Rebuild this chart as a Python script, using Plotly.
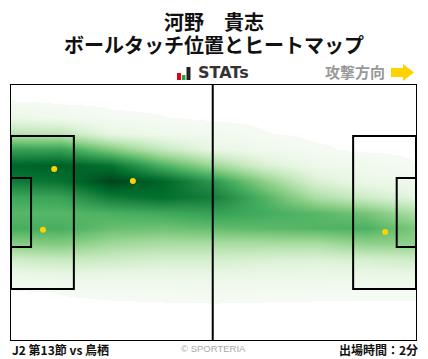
import plotly.graph_objects as go

W, H = 428, 359
L, T, R, B = 11, 85, 416, 340

# Heat grid, metres on a 105 x 68 pitch
grid_x = [0, 13, 26, 39, 52.5, 66, 79, 92, 105]
grid_y = [0, 4.25, 8.5, 12.75, 17, 21.25, 25.5, 29.75, 34, 38.25, 42.5, 46.75, 51, 55.25, 59.5, 63.75, 68]
density = [
    [0, 0, 0, 0, 0, 0, 0, 0, 0],
    [0.0092, 0, 0, 0, 0, 0, 0, 0, 0],
    [0.08, 0.045, 0.016, 0.0092, 0, 0, 0, 0, 0],
    [0.30, 0.27, 0.10, 0.05, 0.032, 0.0092, 0, 0, 0],
    [0.66, 0.66, 0.46, 0.26, 0.10, 0.04, 0.0142, 0, 0],
    [0.90, 0.92, 0.85, 0.60, 0.38, 0.17, 0.06, 0.043, 0.0092],
    [0.82, 0.85, 1.00, 0.90, 0.70, 0.42, 0.17, 0.08, 0.05],
    [0.64, 0.66, 0.82, 0.87, 0.80, 0.58, 0.34, 0.22, 0.13],
    [0.57, 0.57, 0.60, 0.63, 0.67, 0.62, 0.57, 0.50, 0.34],
    [0.61, 0.61, 0.53, 0.51, 0.54, 0.56, 0.58, 0.60, 0.48],
    [0.44, 0.46, 0.37, 0.34, 0.34, 0.34, 0.34, 0.42, 0.42],
    [0.21, 0.24, 0.22, 0.19, 0.19, 0.17, 0.16, 0.18, 0.22],
    [0.07, 0.09, 0.09, 0.08, 0.09, 0.08, 0.08, 0.08, 0.09],
    [0, 0.0098, 0.016, 0.021, 0.026, 0.021, 0.018, 0.017, 0.016],
    [0, 0, 0, 0, 0, 0, 0, 0, 0],
    [0, 0, 0, 0, 0, 0, 0, 0, 0],
    [0, 0, 0, 0, 0, 0, 0, 0, 0],
]
touch_x = [11.2, 31.6, 8.3, 97.0]
touch_y = [22.4, 25.6, 38.6, 39.2]

title_lines = ["河野　貴志", "ボールタッチ位置とヒートマップ"]
footer_left = "J2 第13節 vs 鳥栖"
footer_mid = "© SPORTERIA"
footer_right = "出場時間：2分"
logo_text = "STATs"
direction_text = "攻撃方向"

CJK = "Noto Sans CJK JP"
colorscale = [
    [0, "#ffffff"], [0.008, "#ffffff"], [0.008, "#f5fbf3"],
    [0.125, "#e5f5e0"], [0.25, "#c7e9c0"], [0.375, "#a1d99b"], [0.5, "#74c476"],
    [0.625, "#41ab5d"], [0.75, "#238b45"], [0.875, "#006d2c"], [1, "#00441b"],
]

fig = go.Figure()
fig.add_trace(go.Heatmap(x=grid_x, y=grid_y, z=density, zmin=0, zmax=1, zsmooth="best",
                         colorscale=colorscale, showscale=False, hoverinfo="skip"))
fig.add_trace(go.Scatter(x=touch_x, y=touch_y, mode="markers", cliponaxis=True, hoverinfo="skip",
                         marker=dict(color="#ffd200", size=6, line=dict(width=0))))


def px(x):
    return (x - L) / (R - L)


def py(y):
    return (B - y) / (B - T)


line = dict(color="black", width=2)
shapes = [
    dict(type="line", x0=52.3, x1=52.3, y0=0, y1=68, xref="x", yref="y", line=line),
    dict(type="rect", x0=0, x1=16.3, y0=13.6, y1=54.4, xref="x", yref="y", line=line),
    dict(type="rect", x0=0, x1=5.2, y0=24.8, y1=43.2, xref="x", yref="y", line=line),
    dict(type="rect", x0=88.7, x1=105, y0=13.6, y1=54.4, xref="x", yref="y", line=line),
    dict(type="rect", x0=100, x1=105, y0=24.8, y1=43.2, xref="x", yref="y", line=line),
]
# STATs logo bars
for x0, x1, y0, c in [(177, 181, 73, "#e60012"), (182, 185.5, 75, "#22a638"), (186.5, 190.5, 67, "#222222")]:
    shapes.append(dict(type="rect", xref="paper", yref="paper", x0=px(x0), x1=px(x1), y0=py(80), y1=py(y0),
                       fillcolor=c, line=dict(width=0), layer="above"))
# direction arrow
arrow = [(391, 68), (403, 68), (403, 64), (414, 72.5), (403, 81), (403, 77), (391, 77)]
path = "M" + " L".join(f"{px(a)},{py(b)}" for a, b in arrow) + " Z"
shapes.append(dict(type="path", xref="paper", yref="paper", path=path, fillcolor="#ffd200", line=dict(width=0)))


def note(text, x, y, size, color="#111111", anchor="center", family=CJK):
    return dict(text=text, x=px(x), y=py(y), xref="paper", yref="paper", xanchor=anchor, yanchor="middle",
                showarrow=False, font=dict(family=family, size=size, color=color))


annotations = [
    note(f"<b>{title_lines[0]}</b>", 214, 21, 20),
    note(f"<b>{title_lines[1]}</b>", 214, 45, 20),
    note(f"<b>{logo_text}</b>", 223, 73, 16, "#333333", family="DejaVu Sans"),
    note(f"<b>{direction_text}</b>", 355, 72, 15, "#999999"),
    note(f"<b>{footer_left}</b>", 10, 349.5, 12, anchor="left"),
    note(footer_mid, 213, 348.5, 9.5, "#aaaaaa", family="Liberation Sans"),
    note(f"<b>{footer_right}</b>", 420, 349.5, 12, anchor="right"),
]

fig.update_layout(
    width=W, height=H, margin=dict(l=L, r=W - R, t=T, b=H - B), paper_bgcolor="white", plot_bgcolor="white",
    showlegend=False, shapes=shapes, annotations=annotations,
    xaxis=dict(range=[0, 105], showgrid=False, zeroline=False, showticklabels=False, ticks="",
               showline=True, mirror=True, linecolor="black", linewidth=1),
    yaxis=dict(range=[68, 0], showgrid=False, zeroline=False, showticklabels=False, ticks="",
               showline=True, mirror=True, linecolor="black", linewidth=1),
)
fig.write_html("out.html", config=dict(displayModeBar=False),
               post_script="document.body.style.margin='0';document.body.style.overflow='hidden';")
